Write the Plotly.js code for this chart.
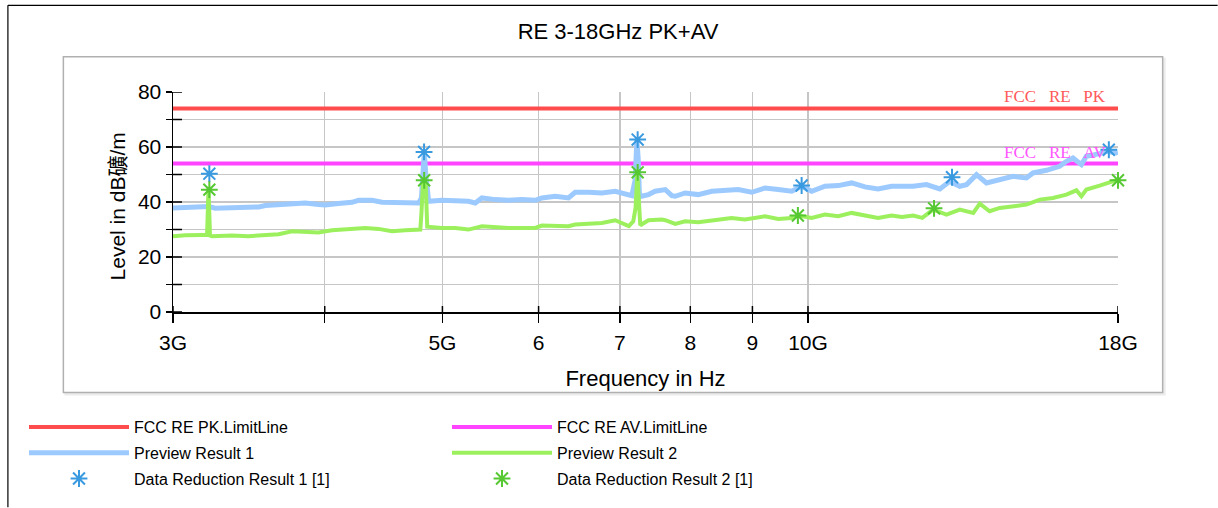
<!DOCTYPE html>
<html>
<head>
<meta charset="utf-8">
<script src="https://cdn.plot.ly/plotly-3.0.1.min.js"></script>
<style>
  html, body { margin: 0; padding: 0; background: #ffffff; }
  #chart { width: 1218px; height: 508px; }
</style>
</head>
<body>
<div id="chart"></div>
<script>
// ---------- DATA (frequency in GHz, level in dBuV/m) ----------
const limitFreq = [3, 18];
const limitPK = [74, 74];
const limitAV = [54, 54];

const freqPreview1 = [3.000,3.071,3.150,3.209,3.250,3.355,3.441,3.530,3.574,3.665,3.759,3.855,3.953,4.004,4.105,4.212,4.265,4.375,4.460,4.600,4.780,4.805,4.818,4.831,4.845,4.860,4.871,4.996,5.123,5.253,5.321,5.389,5.527,5.668,5.814,5.962,6.038,6.192,6.350,6.431,6.596,6.765,6.938,7.071,7.160,7.206,7.229,7.247,7.265,7.290,7.390,7.484,7.630,7.725,7.774,7.922,8.120,8.333,8.546,8.760,8.989,9.218,9.450,9.696,9.881,10.070,10.327,10.590,10.863,11.140,11.420,11.717,12.016,12.206,12.519,12.840,13.085,13.335,13.506,13.764,14.027,14.385,14.752,15.131,15.321,15.716,16.117,16.322,16.528,16.793,16.953,17.386,17.608,17.930,18.000];
const levelPreview1 = [37.84,38.09,38.21,38.40,37.72,37.97,37.72,38.21,38.69,38.93,39.42,39.66,39.06,38.93,39.42,39.90,40.63,40.63,39.90,39.66,39.66,41.5,52.0,58.2,50.0,40.9,40.27,40.63,40.63,40.27,39.66,41.48,40.87,40.63,40.87,40.63,41.48,42.08,41.48,43.54,43.54,43.30,43.90,42.69,42.33,48.0,62.5,56.0,42.5,42.08,42.69,43.90,44.51,42.33,42.08,43.30,42.69,43.90,44.26,44.51,43.54,45.11,44.51,43.90,45.72,43.90,45.72,45.96,46.93,45.48,44.75,45.72,45.70,45.72,46.32,44.75,47.50,45.72,46.32,49.96,46.93,48.14,49.35,48.74,50.56,51.53,52.98,54.80,56.01,53.59,56.62,57.59,58.43,57.83,58.20];

const freqPreview2 = [3.000,3.071,3.170,3.200,3.209,3.218,3.230,3.355,3.460,3.574,3.665,3.759,3.855,3.953,4.055,4.212,4.320,4.430,4.544,4.660,4.795,4.805,4.818,4.831,4.845,4.858,4.871,4.996,5.123,5.253,5.389,5.527,5.668,5.814,5.962,6.038,6.192,6.350,6.431,6.596,6.765,6.938,7.050,7.120,7.180,7.212,7.235,7.255,7.275,7.290,7.390,7.580,7.630,7.774,7.922,8.120,8.333,8.650,8.873,9.100,9.218,9.450,9.696,9.820,10.070,10.327,10.590,10.863,11.140,11.420,11.717,11.950,12.206,12.420,12.677,13.003,13.335,13.680,13.850,14.110,14.385,14.752,15.131,15.520,15.910,16.322,16.635,16.793,16.953,17.386,17.829,18.000];
const levelPreview2 = [27.56,27.92,28.04,28.00,45.00,27.80,27.56,27.80,27.56,28.16,28.28,29.37,29.13,28.89,29.73,30.22,30.58,30.22,29.37,29.73,29.97,36.0,46.0,47.9,46.0,31.0,30.94,30.58,30.58,29.97,31.18,30.82,30.58,30.58,30.58,31.43,31.18,31.18,31.79,32.15,32.40,33.37,32.15,31.2,33.0,38.0,50.8,40.0,32.0,31.79,33.37,33.61,33.37,32.03,33.00,32.64,33.37,34.21,33.61,34.21,34.82,33.85,34.21,35.06,34.21,35.42,34.82,36.03,35.06,34.21,35.06,34.58,35.06,34.21,37.24,35.42,37.24,36.03,39.42,36.63,37.84,38.45,39.06,40.87,41.48,42.69,44.26,42.08,44.51,45.96,47.53,48.14];

const freqReduction1 = [3.214, 4.829, 7.24, 9.88, 13.14, 17.69];
const levelReduction1 = [50.3, 58.2, 62.7, 46.0, 49.0, 59.0];
const freqReduction2 = [3.214, 4.83, 7.24, 9.81, 12.70, 18.0];
const levelReduction2 = [44.5, 47.9, 50.8, 35.1, 37.7, 47.9];

const xTickVals = [3, 4, 5, 6, 7, 8, 9, 10, 18];
const xTickText = ['3G', '', '5G', '6', '7', '8', '9', '10G', '18G'];
const yTickVals = [0, 10, 20, 30, 40, 50, 60, 70, 80];
const yTickText = ['0', '', '20', '', '40', '', '60', '', '80'];

const seriesNames = ['FCC RE PK.LimitLine', 'FCC RE AV.LimitLine', 'Preview Result 1', 'Preview Result 2', 'Data Reduction Result 1 [1]', 'Data Reduction Result 2 [1]'];
const yAxisTitle = 'Level in dB礦/m';

// ---------- LAYOUT GEOMETRY ----------
const W = 1218, H = 508;
const L = 172.7, R = 1118.3, T = 92.3, B = 312.5;
const PW = R - L, PH = B - T;
const px2x = p => (p - L) / PW;
const px2y = p => (B - p) / PH;
const FONT = 'Arial, "Liberation Sans", "Noto Sans CJK SC", sans-serif';

const traces = [
  { x: limitFreq, y: limitPK, name: seriesNames[0], mode: 'lines', line: { color: '#ff4d4d', width: 4 }, legend: 'legend', hoverinfo: 'skip' },
  { x: limitFreq, y: limitAV, name: seriesNames[1], mode: 'lines', line: { color: '#ff44ff', width: 4 }, legend: 'legend2', hoverinfo: 'skip' },
  { x: freqPreview1, y: levelPreview1, name: seriesNames[2], mode: 'lines', line: { color: '#9ccaff', width: 5 }, legend: 'legend' },
  { x: freqPreview2, y: levelPreview2, name: seriesNames[3], mode: 'lines', line: { color: '#9cf05e', width: 4 }, legend: 'legend2' },
  { x: freqReduction1, y: levelReduction1, name: seriesNames[4], mode: 'markers', cliponaxis: false,
    marker: { symbol: 'asterisk-open', size: 14, color: '#3a9ae0', line: { color: '#3a9ae0', width: 2 } }, legend: 'legend' },
  { x: freqReduction2, y: levelReduction2, name: seriesNames[5], mode: 'markers', cliponaxis: false,
    marker: { symbol: 'asterisk-open', size: 14, color: '#55c832', line: { color: '#55c832', width: 2 } }, legend: 'legend2' }
];

const shapes = [
  // outer frame (top and left)
  { type: 'line', xref: 'paper', yref: 'paper', x0: px2x(7.5), x1: px2x(1218), y0: px2y(5.5), y1: px2y(5.5), line: { color: '#000', width: 1.2 }, layer: 'below' },
  { type: 'line', xref: 'paper', yref: 'paper', x0: px2x(7.5), x1: px2x(7.5), y0: px2y(5.5), y1: px2y(508), line: { color: '#000', width: 1.2 }, layer: 'below' },
  // panel shadow + panel
  { type: 'rect', xref: 'paper', yref: 'paper', x0: px2x(64), x1: px2x(1166), y0: px2y(396), y1: px2y(58), fillcolor: '#ececec', line: { width: 0 }, layer: 'below' },
  { type: 'rect', xref: 'paper', yref: 'paper', x0: px2x(63), x1: px2x(1163), y0: px2y(393), y1: px2y(57), fillcolor: '#ffffff', line: { color: '#b0b0b0', width: 1.5 }, layer: 'below' }
];
// inner halves of the crossing tick marks, placed at the tick values through the axes
xTickVals.forEach(v => shapes.push({ type: 'line', xref: 'x', yref: 'paper', x0: v, x1: v, y0: 0, y1: 6 / PH, line: { color: '#000', width: 1.5 } }));
yTickVals.forEach(v => shapes.push({ type: 'line', xref: 'paper', yref: 'y', x0: 0, x1: 9 / PW, y0: v, y1: v, line: { color: '#000', width: 1.5 } }));

const annotations = [
  { xref: 'paper', yref: 'y', x: px2x(1108), y: 78.3, xanchor: 'right', yanchor: 'middle', showarrow: false,
    text: 'FCC\u00a0\u00a0\u00a0RE\u00a0\u00a0\u00a0PK', font: { family: '"Liberation Serif", "Times New Roman", serif', size: 17, color: '#ff5a5a' } },
  { xref: 'paper', yref: 'y', x: px2x(1108), y: 58.1, xanchor: 'right', yanchor: 'middle', showarrow: false,
    text: 'FCC\u00a0\u00a0\u00a0RE\u00a0\u00a0\u00a0AV', font: { family: '"Liberation Serif", "Times New Roman", serif', size: 17, color: '#ff55ff' } },
  // y-axis title
  { xref: 'paper', yref: 'paper', x: px2x(117), y: px2y(206.5), xanchor: 'center', yanchor: 'middle', showarrow: false, textangle: -90,
    text: yAxisTitle, font: { family: FONT, size: 21, color: '#000' } }
];

const axisCommon = { showline: true, linecolor: '#000', linewidth: 1.5, tickcolor: '#000', tickwidth: 1.5, zeroline: false,
  gridcolor: '#c6c6c6', gridwidth: 1.5, tickfont: { family: FONT, size: 21, color: '#000' } };

const legendCommon = { xref: 'container', yref: 'container', xanchor: 'left', yanchor: 'top',
  bgcolor: 'rgba(0,0,0,0)', font: { family: FONT, size: 16, color: '#000' }, tracegroupgap: 2, itemwidth: 100 };

const layout = {
  width: W, height: H,
  margin: { l: L, r: W - R, t: T, b: H - B, pad: 0, autoexpand: false },
  paper_bgcolor: '#ffffff',
  plot_bgcolor: 'rgba(0,0,0,0)',
  font: { family: FONT, color: '#000' },
  title: { text: 'RE 3-18GHz PK+AV', x: 618 / W, xref: 'container', xanchor: 'center', y: 1 - 31 / H, yref: 'container', yanchor: 'middle',
    font: { family: FONT, size: 22, color: '#000' } },
  xaxis: Object.assign({}, axisCommon, {
    type: 'log', range: [Math.log10(3), Math.log10(18)], tickmode: 'array', tickvals: xTickVals, ticktext: xTickText,
    ticks: 'outside', ticklen: 9, ticklabelstandoff: 2, tickangle: 0, automargin: true,
    title: { text: 'Frequency in Hz', font: { family: FONT, size: 22, color: '#000' }, standoff: 18 }
  }),
  yaxis: Object.assign({}, axisCommon, {
    range: [0, 80], tickmode: 'array', tickvals: yTickVals, ticktext: yTickText,
    ticks: 'outside', ticklen: 6, automargin: false
  }),
  showlegend: true,
  legend: Object.assign({}, legendCommon, { x: 24 / W, y: 1 - 410 / H }),
  legend2: Object.assign({}, legendCommon, { x: 447 / W, y: 1 - 410 / H }),
  shapes: shapes,
  annotations: annotations
};

// separate legend groups give the row spacing
traces.forEach((t, i) => { t.legendgroup = 'g' + i; });

Plotly.newPlot('chart', traces, layout, { displayModeBar: false, staticPlot: true });
</script>
</body>
</html>
